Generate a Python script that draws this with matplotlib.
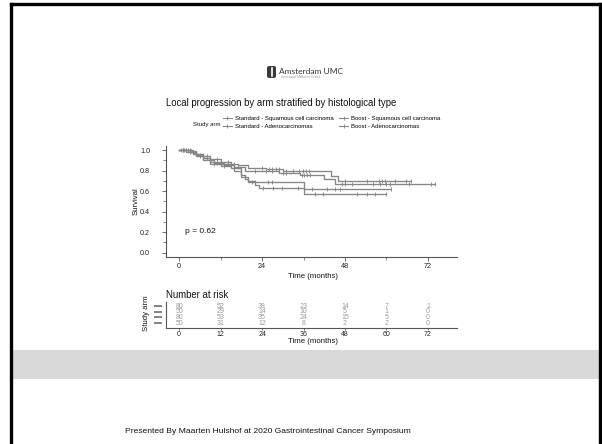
import numpy as np
import matplotlib
matplotlib.use("Agg")
import matplotlib.pyplot as plt
from matplotlib.lines import Line2D
from matplotlib.patches import Rectangle, FancyBboxPatch
from matplotlib.ticker import MultipleLocator

plt.rcParams['font.family'] = ['Liberation Sans', 'DejaVu Sans']

# ---- data ---------------------------------------------------------------
arm_labels = ["Standard - Squamous cell carcinoma", "Standard - Adenocarcinomas",
              "Boost - Squamous cell carcinoma", "Boost - Adenocarcinomas"]

# Kaplan-Meier step functions (time in months, survival after the step)
std_scc_t = [0, 4, 5, 7, 9, 10, 13, 16, 19, 29, 35, 42, 45, 74]
std_scc_s = [1.0, 0.975, 0.95, 0.925, 0.90, 0.875, 0.85, 0.83, 0.80, 0.775, 0.757, 0.72, 0.665, 0.665]
std_scc_cens = [1, 2, 3, 6, 11, 12, 15, 17, 22, 25, 27, 30, 31, 35.5, 36, 37, 38,
                47, 48, 50, 56, 58, 60, 61, 66.5, 72.8, 74]

std_ade_t = [0, 2, 4, 5, 7, 9, 12, 15, 18, 19, 20, 36, 61]
std_ade_s = [1.0, 0.98, 0.96, 0.94, 0.90, 0.86, 0.84, 0.82, 0.76, 0.72, 0.69, 0.617, 0.617]
std_ade_cens = [1.5, 3, 6, 10, 13, 21, 22, 25.8, 26.8, 38.4, 42.7, 45.1, 46.6, 61.2]

bst_scc_t = [0, 3, 5, 7, 9, 12, 15, 17, 20, 25, 30, 44, 46, 67]
bst_scc_s = [1.0, 0.987, 0.962, 0.937, 0.912, 0.887, 0.862, 0.85, 0.825, 0.81, 0.797, 0.745, 0.70, 0.70]
bst_scc_cens = [0.5, 1, 2, 3.5, 8, 11, 14, 16, 24, 26, 27, 28, 29, 31, 33, 34.8, 35.8,
                36.8, 37.7, 48.1, 54.4, 57.8, 58.7, 59.7, 62.6, 65.5, 67]

bst_ade_t = [0, 3, 5, 7, 9, 12, 16, 18, 20, 22, 23, 36, 60]
bst_ade_s = [1.0, 0.98, 0.96, 0.92, 0.88, 0.86, 0.80, 0.74, 0.70, 0.66, 0.627, 0.571, 0.571]
bst_ade_cens = [1, 2.5, 4, 8, 13, 19, 24.3, 27.2, 29.7, 34.5, 39.3, 41.6, 51.4, 54.3, 56.7, 60]

risk_times = [0, 12, 24, 36, 48, 60, 72]
risk_std_scc = [80, 52, 38, 23, 14, 7, 1]
risk_std_ade = [50, 29, 14, 10, 5, 1, 0]
risk_bst_scc = [80, 53, 35, 24, 15, 5, 0]
risk_bst_ade = [50, 31, 12, 8, 2, 2, 0]

p_text = "p = 0.62"

# ---- figure / slide frame ------------------------------------------------
W, H = 602, 444
fig = plt.figure(figsize=(W / 100, H / 100), dpi=100)
fig.patch.set_facecolor("white")


def fx(x):
    return x / W


def fy(y):
    return 1 - y / H


# grey band and black slide border
fig.patches.append(Rectangle((fx(12), fy(379)), fx(599) - fx(12), fy(350) - fy(379),
                             transform=fig.transFigure, facecolor="#d9d9d9",
                             edgecolor="none", zorder=0))
for xs, ys in [([11, 11], [4, 444]), ([599.5, 599.5], [4, 444]), ([11, 599.5], [4.5, 4.5])]:
    fig.add_artist(Line2D([fx(v) for v in xs], [fy(v) for v in ys],
                          transform=fig.transFigure, color="black", lw=2.4))

# logo
fig.patches.append(FancyBboxPatch((fx(267), fy(78)), fx(9), fy(66) - fy(78),
                                  boxstyle="round,pad=0,rounding_size=0.004",
                                  transform=fig.transFigure, facecolor="#3a3a3a",
                                  edgecolor="none"))
fig.add_artist(Line2D([fx(271.5), fx(271.5)], [fy(68), fy(76)], transform=fig.transFigure,
                      color="white", lw=1.2))
fig.text(fx(279), fy(71.5), "Amsterdam UMC", fontsize=6.0, color="#333333",
         ha="left", va="center", family=["Lato", "DejaVu Sans"])
fig.text(fx(281), fy(77.5), "Universitair Medische Centra", fontsize=2.2,
         color="#999999", ha="left", va="center")

# title
fig.text(fx(166), fy(102.5), "Local progression by arm stratified by histological type",
         fontsize=6.9, color="#111111", ha="left", va="center")

# ---- survival curves -----------------------------------------------------
curve_color = "#858585"
ax = fig.add_axes([fx(166), fy(256.7), fx(457) - fx(166), fy(145.9) - fy(256.7)])
ax.set_xlim(-3.8, 80.4)
ax.set_ylim(-0.04, 1.04)

series = [(std_scc_t, std_scc_s, std_scc_cens), (std_ade_t, std_ade_s, std_ade_cens),
          (bst_scc_t, bst_scc_s, bst_scc_cens), (bst_ade_t, bst_ade_s, bst_ade_cens)]
for t, s, c in series:
    t = np.asarray(t, float)
    s = np.asarray(s, float)
    ax.step(t, s, where="post", color=curve_color, lw=0.95)
    c = np.asarray(c, float)
    idx = np.searchsorted(t, c, side="right") - 1
    ax.plot(c, s[idx], ls="none", marker="|", ms=2.8, mew=0.65, color=curve_color)

ax.text(1.6, 0.205, p_text, fontsize=6, ha="left", va="center", color="#111111")

for side in ("top", "right"):
    ax.spines[side].set_visible(False)
for side in ("left", "bottom"):
    ax.spines[side].set_color("#555555")
    ax.spines[side].set_linewidth(0.8)
ax.set_xticks([0, 24, 48, 72])
ax.xaxis.set_minor_locator(MultipleLocator(12))
ax.set_yticks([0, 0.2, 0.4, 0.6, 0.8, 1.0])
ax.set_yticklabels(["0.0", "0.2", "0.4", "0.6", "0.8", "1.0"])
ax.yaxis.set_minor_locator(MultipleLocator(0.1))
ax.tick_params(axis="y", which="major", labelsize=5.2, length=3, width=0.6, pad=8.5,
               color="#555555", labelcolor="#222222")
ax.tick_params(axis="x", which="major", labelsize=5.2, length=3, width=0.6, pad=1.5,
               color="#555555", labelcolor="#222222")
ax.tick_params(which="minor", length=2, width=0.5, color="#555555")
ax.set_facecolor("none")

fig.text(fx(313), fy(277), "Time (months)", fontsize=5.6, ha="center", va="center",
         color="#111111")
fig.text(fx(136), fy(201), "Survival", fontsize=5.6, ha="center", va="center",
         rotation=90, color="#111111")

# legend
handles = [Line2D([], [], color=curve_color, lw=0.8, marker="|", ms=3, mew=0.6)
           for _ in arm_labels]
fig.legend(handles, arm_labels, loc="upper left", ncol=2, frameon=False,
           bbox_to_anchor=(fx(223), fy(115.5)), bbox_transform=fig.transFigure,
           fontsize=4.3, handlelength=1.5, handletextpad=0.5, columnspacing=0.9,
           labelspacing=0.55, borderpad=0, borderaxespad=0)
fig.text(fx(193), fy(124.3), "Study arm", fontsize=4.3, ha="left", va="center",
         color="#111111")

# ---- number at risk table -----------------------------------------------
ax2 = fig.add_axes([fx(166), fy(328), fx(457) - fx(166), fy(302) - fy(328)])
ax2.set_xlim(-3.8, 80.4)
ax2.set_ylim(3.909, -0.818)
risk_rows = [risk_std_scc, risk_std_ade, risk_bst_scc, risk_bst_ade]
for r, row in enumerate(risk_rows):
    for t, n in zip(risk_times, row):
        ax2.text(t, r, str(n), fontsize=5.0, ha="center", va="center", color="#9a9a9a")
    ax2.plot([-7.2, -5.0], [r, r], color="#7a7a7a", lw=1.3, clip_on=False,
             solid_capstyle="butt")
for side in ("top", "right"):
    ax2.spines[side].set_visible(False)
for side in ("left", "bottom"):
    ax2.spines[side].set_color("#555555")
    ax2.spines[side].set_linewidth(0.8)
ax2.set_xticks(risk_times)
ax2.set_yticks([])
ax2.tick_params(axis="x", labelsize=5.0, length=1.5, width=0.6, pad=0.4,
                color="#555555", labelcolor="#222222")
ax2.set_facecolor("none")

fig.text(fx(166), fy(295), "Number at risk", fontsize=6.9, ha="left", va="center",
         color="#111111")
fig.text(fx(313), fy(341.5), "Time (months)", fontsize=5.6, ha="center", va="center",
         color="#111111")
fig.text(fx(146), fy(313), "Study arm", fontsize=5.6, ha="center", va="center",
         rotation=90, color="#111111")

# footer
fig.text(fx(268), fy(431.5),
         "Presented By Maarten Hulshof at 2020 Gastrointestinal Cancer Symposium",
         fontsize=6.1, ha="center", va="center", color="#111111")

fig.savefig("out.png", dpi=100)
